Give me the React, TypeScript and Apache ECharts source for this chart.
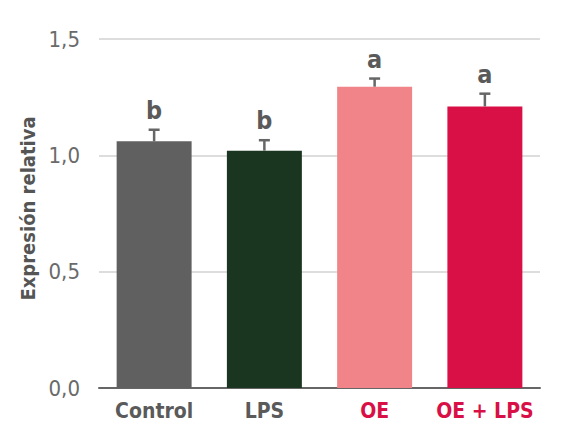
import React, { useEffect, useRef } from "react";
import * as echarts from "echarts";

const categories = ["Control", "LPS", "OE", "OE + LPS"];
const values = [1.06, 1.02, 1.295, 1.21];
const errors = [0.05, 0.045, 0.035, 0.055];
const letters = ["b", "b", "a", "a"];
const barColors = ["#606060", "#1a3520", "#f08489", "#d81045"];
const labelColors = ["#5a5a5a", "#5a5a5a", "#d81045", "#d81045"];
const yTicks = [0, 0.5, 1.0, 1.5];

const FONT = "'DejaVu Sans Condensed', 'Liberation Sans Narrow', Roboto, sans-serif";

export default function App() {
  const ref = useRef<HTMLDivElement>(null);

  useEffect(() => {
    document.body.style.margin = "0";
    if (!ref.current) return;
    const chart = echarts.init(ref.current, undefined, { renderer: "svg" });

    chart.setOption({
      animation: false,
      backgroundColor: "#ffffff",
      grid: { left: 99, right: 28, top: 39, bottom: 57 },
      xAxis: {
        type: "category",
        data: categories,
        axisLine: { lineStyle: { color: "#666666", width: 2 } },
        axisTick: { show: false },
        axisLabel: {
          interval: 0,
          margin: 12,
          fontFamily: FONT,
          fontWeight: "bold",
          fontSize: 21,
          color: (_v: string, i: number) => labelColors[i],
        },
      },
      yAxis: {
        type: "value",
        min: yTicks[0],
        max: yTicks[yTicks.length - 1],
        interval: 0.5,
        name: "Expresión relativa",
        nameLocation: "middle",
        nameGap: 53,
        nameTextStyle: {
          fontFamily: FONT,
          fontWeight: "bold",
          fontSize: 20,
          color: "#555555",
          padding: [0, 0, 0, 10],
        },
        axisLine: { show: false },
        axisTick: { show: false },
        axisLabel: {
          margin: 19,
          fontFamily: FONT,
          fontSize: 22,
          color: "#6a6a6a",
          formatter: (v: number) => v.toFixed(1).replace(".", ","),
        },
        splitLine: { lineStyle: { color: "#dddddd", width: 2 } },
      },
      series: [
        {
          type: "bar",
          barWidth: "68%",
          data: values.map((v, i) => ({ value: v, itemStyle: { color: barColors[i] } })),
        },
        {
          type: "custom",
          data: values.map((v, i) => [i, v, v + errors[i]]),
          renderItem: (params: any, api: any) => {
            const idx = api.value(0);
            const base = api.coord([idx, api.value(1)]);
            const top = api.coord([idx, api.value(2)]);
            const half = 5.5;
            const stroke = { stroke: "#666666", lineWidth: 2.5 };
            return {
              type: "group",
              children: [
                { type: "line", shape: { x1: base[0], y1: base[1], x2: top[0], y2: top[1] }, style: stroke },
                { type: "line", shape: { x1: top[0] - half, y1: top[1], x2: top[0] + half, y2: top[1] }, style: stroke },
                {
                  type: "text",
                  x: top[0],
                  y: top[1] - 7,
                  style: {
                    text: letters[params.dataIndex],
                    fill: "#5a5a5a",
                    font: `bold 25px ${FONT}`,
                    textAlign: "center",
                    textVerticalAlign: "bottom",
                  },
                },
              ],
            };
          },
          z: 5,
        },
      ],
    });

    return () => chart.dispose();
  }, []);

  return <div ref={ref} style={{ width: 568, height: 445 }} />;
}
